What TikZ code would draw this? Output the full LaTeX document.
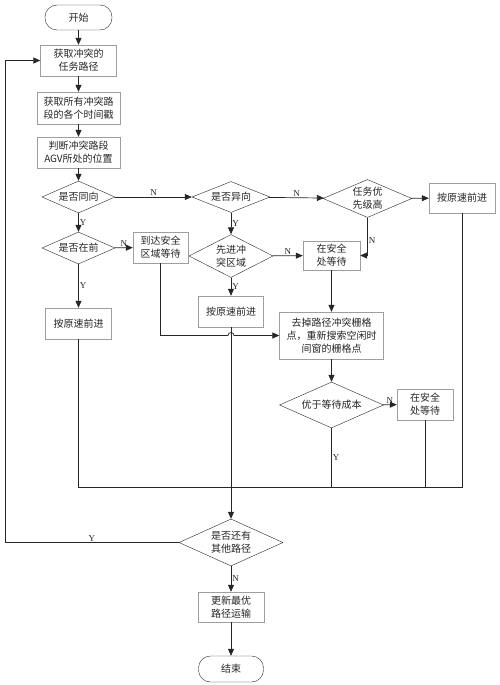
\documentclass[tikz,border=0pt]{standalone}
\usepackage{fontspec}
\setmainfont{Liberation Serif}
\newfontfamily\cjk{Noto Sans CJK SC}
\usepackage{xcolor}
\definecolor{boxBorder}{rgb}{0.62,0.62,0.62}
\definecolor{lineDark}{rgb}{0.15,0.15,0.15}
\usepackage{tikz}
\usetikzlibrary{shapes}
\usetikzlibrary{arrows.meta}
\tikzstyle{proc} = [rectangle, draw=boxBorder, fill=white, align=center, inner sep=1pt,
        text=lineDark, font={\cjk\fontsize{10}{13}\selectfont}]
\tikzstyle{term} = [proc, draw=lineDark, rounded corners=12pt]
\tikzstyle{decision} = [diamond, draw=lineDark, fill=white, align=center, inner sep=0pt,
        text=lineDark, font={\cjk\fontsize{10}{13}\selectfont}]
\tikzstyle{flow} = [draw=lineDark, line width=0.7pt, -{Triangle[length=7pt,width=6pt]}]
\tikzstyle{link} = [draw=lineDark, line width=0.7pt]
\tikzstyle{tag} = [font={\fontsize{9}{10}\selectfont}, text=lineDark, inner sep=1pt]

\begin{document}
\begin{tikzpicture}[x=1pt, y=1pt]
            \useasboundingbox (0,0) rectangle (500,-685);
            \node [term, minimum width=67pt, minimum height=25pt] (start) at (78.5,-17.5) {开始};
            \node [proc, minimum width=76pt, minimum height=31pt] (getpath) at (78.5,-60.5) {获取冲突的\\任务路径};
            \node [proc, minimum width=83pt, minimum height=32pt] (getstamp) at (78.5,-108) {获取所有冲突路\\段的各个时间戳};
            \node [proc, minimum width=83pt, minimum height=31pt] (judge) at (78.5,-152.5) {判断冲突路段\\AGV所处的位置};
            \node [decision, minimum width=73pt, minimum height=32pt, aspect=2.28] (same) at (78.5,-197) {是否同向};
            \node [decision, minimum width=78pt, minimum height=31pt, aspect=2.5] (diff) at (231,-197) {是否异向};
            \node [decision, minimum width=89pt, minimum height=38pt, aspect=2.34] (prio) at (367.5,-198.5) {任务优\\先级高};
            \node [proc, minimum width=66pt, minimum height=30pt] (keepR) at (462,-198) {按原速前进};
            \node [decision, minimum width=73pt, minimum height=32pt, aspect=2.28] (front) at (78.5,-248) {是否在前};
            \node [proc, minimum width=55pt, minimum height=31pt] (arrive) at (160.5,-247.5) {到达安全\\区域等待};
            \node [decision, minimum width=84pt, minimum height=43pt, aspect=1.95] (first) at (231,-256) {先进冲\\突区域};
            \node [proc, minimum width=57pt, minimum height=29pt] (waitA) at (331.5,-255.5) {在安全\\处等待};
            \node [proc, minimum width=66pt, minimum height=31pt] (keepL) at (78.5,-323.5) {按原速前进};
            \node [proc, minimum width=65pt, minimum height=31pt] (keepM) at (231,-311.5) {按原速前进};
            \node [proc, minimum width=104pt, minimum height=47pt] (clear) at (331.5,-335.5) {去掉路径冲突栅格\\点，重新搜索空闲时\\间窗的栅格点};
            \node [decision, minimum width=104pt, minimum height=46pt, aspect=2.26] (better) at (331.5,-405) {优于等待成本};
            \node [proc, minimum width=56pt, minimum height=31pt] (waitB) at (425,-404.5) {在安全\\处等待};
            \node [decision, minimum width=104pt, minimum height=47pt, aspect=2.21] (more) at (231,-542.5) {是否还有\\其他路径};
            \node [proc, minimum width=66pt, minimum height=30pt] (update) at (231,-607) {更新最优\\路径运输};
            \node [term, minimum width=65pt, minimum height=26pt] (end) at (231,-669) {结束};

            \coordinate (mergeY) at (0,-487);
            \coordinate (hop) at (keepM.south |- clear.west);
            \coordinate (loop) at (5,-542.5);

            \draw [flow] (start) -- (getpath);
            \draw [flow] (getpath) -- (getstamp);
            \draw [flow] (getstamp) -- (judge);
            \draw [flow] (judge) -- (same);
            \draw [flow] (same) -- node [tag, above] {N} (diff);
            \draw [flow] (same) -- node [tag, right] {Y} (front);
            \draw [flow] (diff) -- node [tag, above] {N} (prio);
            \draw [flow] (diff) -- node [tag, right] {Y} (first);
            \draw [flow] (prio) -- (keepR);
            \draw [flow] (prio.south) |- node [tag, right, pos=0.3] {N} (waitA.east);
            \draw [flow] (front) -- node [tag, above] {N} (arrive);
            \draw [flow] (front) -- node [tag, right] {Y} (keepL);
            \draw [flow] (first) -- node [tag, above] {N} (waitA);
            \draw [flow] (first) -- node [tag, right] {Y} (keepM);
            \draw [flow] (waitA) -- (clear);
            \draw [flow] (arrive.south) |- ([xshift=-3pt]hop) arc [start angle=180, end angle=0, radius=3pt] -- (clear.west);
            \draw [flow] (clear) -- (better);
            \draw [flow] (better) -- node [tag, above] {N} (waitB);
            \draw [link] (better.south) -- node [tag, right] {Y} (better.south |- mergeY);
            \draw [link] (waitB.south) -- (waitB.south |- mergeY);
            \draw [link] (keepL.south) -- (keepL.south |- mergeY) -- (keepR.south |- mergeY) -- (keepR.south);
            \draw [flow] (keepM) -- (more);
            \draw [flow] (more.west) -- node [tag, above] {Y} (loop) |- (getpath.west);
            \draw [flow] (more) -- node [tag, right] {N} (update);
            \draw [flow] (update) -- (end);
        \end{tikzpicture}
\end{document}
